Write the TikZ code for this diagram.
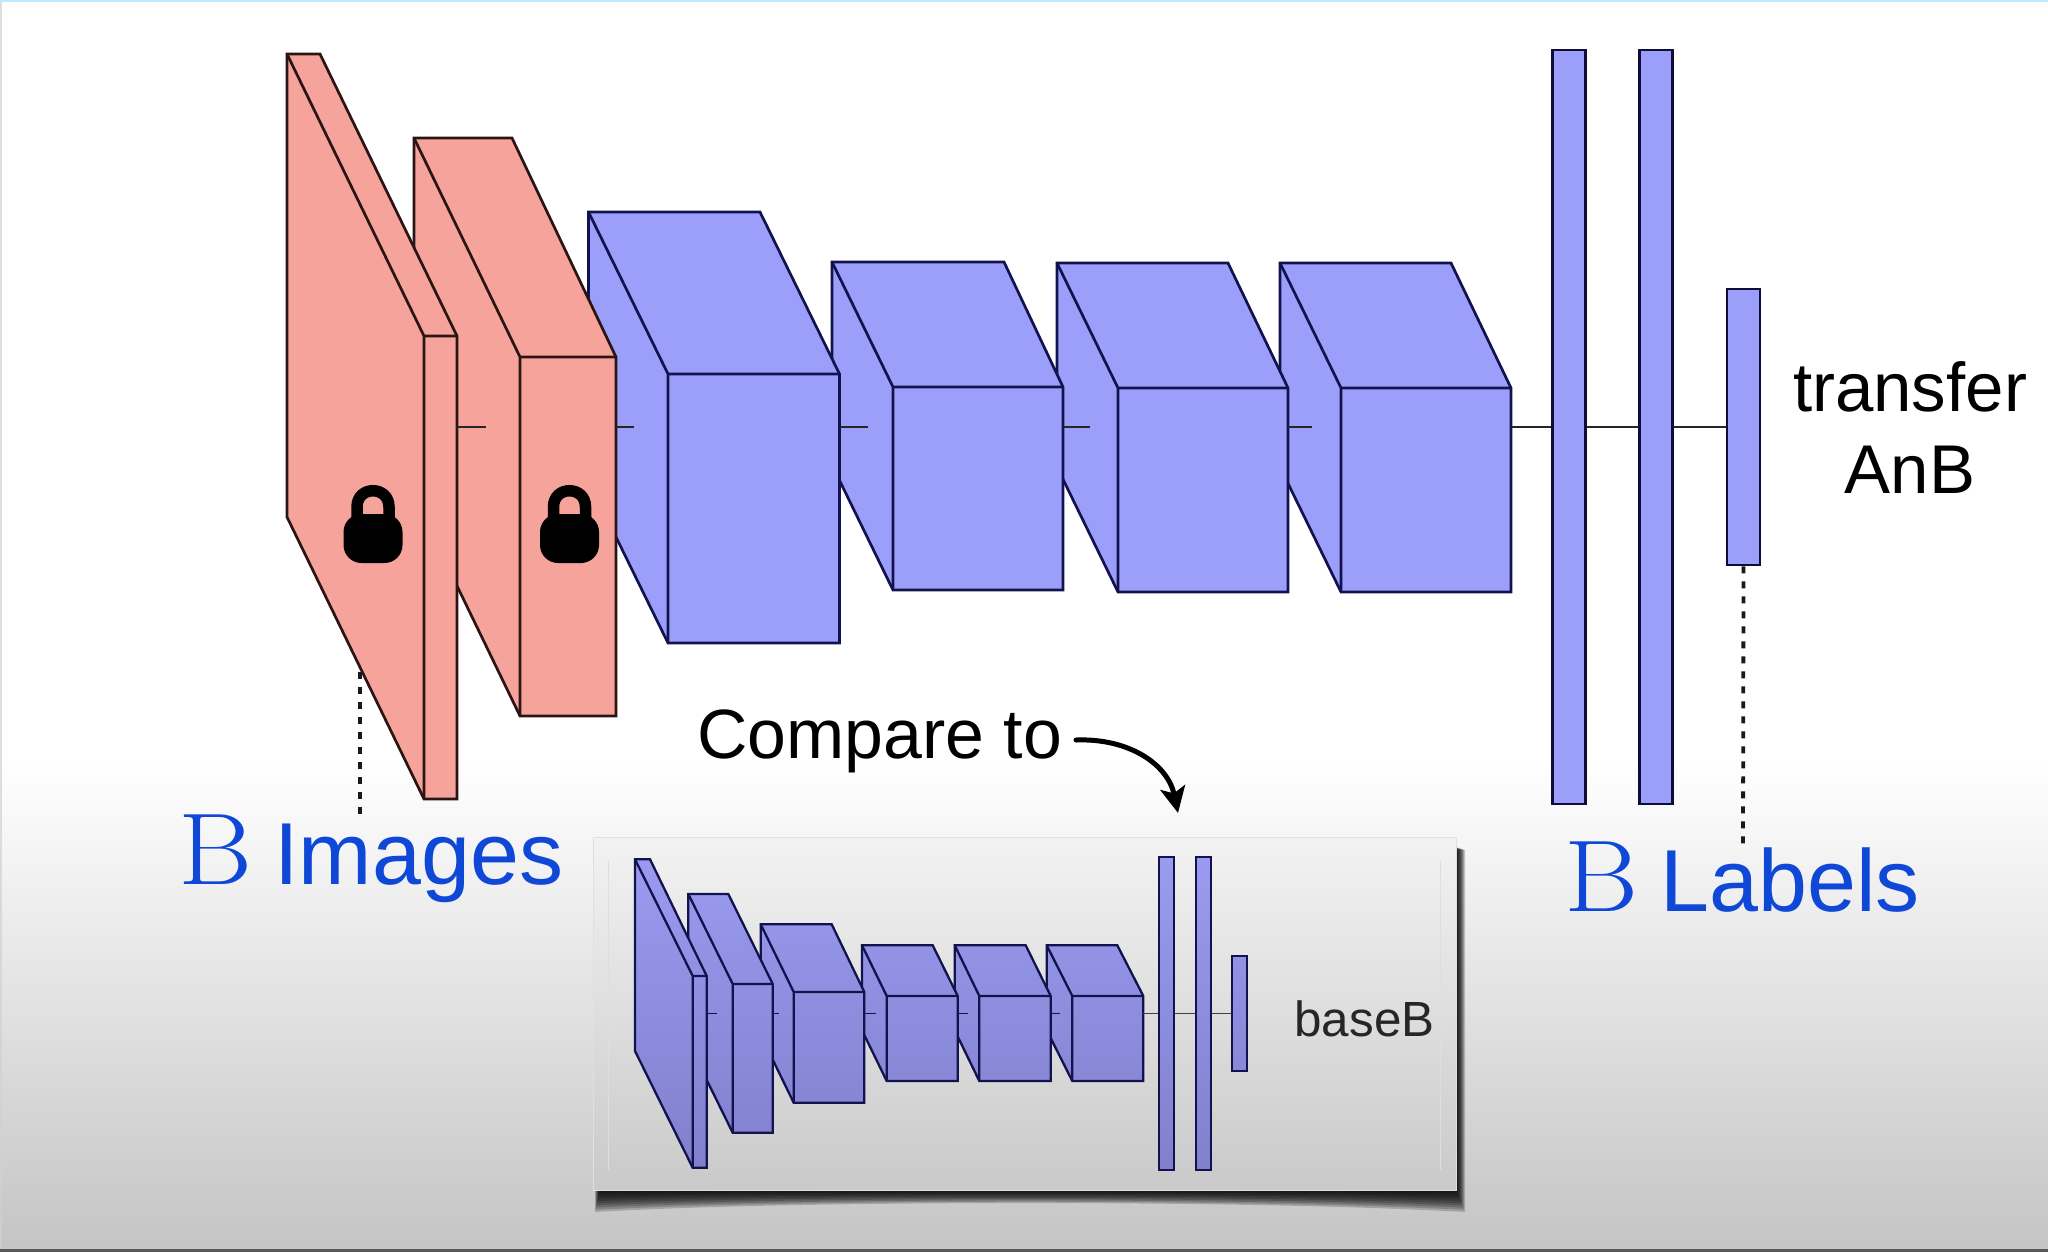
\documentclass[tikz,border=0pt]{standalone}
\usepackage{fontspec}
\usetikzlibrary{calc,arrows.meta}
\newfontfamily\helv{Liberation Sans}
\definecolor{pinkf}{HTML}{F6A39B}
\definecolor{bluef}{HTML}{9C9FFA}
\definecolor{pinke}{HTML}{2A1414}
\definecolor{bluee}{HTML}{12124E}
\definecolor{inA}{HTML}{9A9AF0}
\definecolor{inB}{HTML}{8080CC}
\definecolor{labelblue}{HTML}{0F47D6}
\newcommand{\netblock}[9]{%
  \coordinate (#1-tl) at (#3,#7);
  \coordinate (#1-tr) at (#4,#7);
  \coordinate (#1-fl) at (#5,#8);
  \coordinate (#1-fr) at (#6,#8);
  \coordinate (#1-bl) at (#5,#9);
  \coordinate (#1-br) at (#6,#9);
  \coordinate (#1-sl) at ($(#1-bl)+(#1-tl)-(#1-fl)$);
  \path[#2,blockfill] (#1-tl) -- (#1-tr) -- (#1-fr) -- (#1-br) -- (#1-bl) -- (#1-sl) -- cycle;
  \draw[#2] (#1-tl) -- (#1-fl) -- (#1-fr) (#1-fl) -- (#1-bl);
}
\tikzset{
  blockfill/.style={},
  pinkline/.style={draw=pinke,line width=1.35pt,line join=miter},
  blueline/.style={draw=bluee,line width=1.35pt,line join=miter},
  bar/.style={draw=bluee!70!black,fill=bluef,line width=1.25pt,inner sep=0pt,minimum width=16.5pt,rectangle},
  innerline/.style={draw=bluee,line width=1.15pt,line join=miter},
  ishade/.style 2 args={top color=inB!#1!inA,bottom color=inB!#2!inA},
  ibar/.style={draw=bluee,line width=1.05pt,inner sep=0pt,minimum width=7.5pt,rectangle},
  stub/.style={draw=black!85,line width=1pt},
  dotline/.style={draw=black!90,line width=1.9pt,dash pattern=on 3.5pt off 4pt},
  lbl/.style={anchor=base west,inner sep=0pt},
  bigblue/.style={lbl,text=labelblue},
  pics/padlock/.style={code={
    \draw[black,line width=5.75pt] (-16,34) -- (-16,22) .. controls (-16,0.3) and (16,0.3) .. (16,22) -- (16,34);
    \fill[black,rounded corners=9pt] (-29.5,29) rectangle (29.5,78);
  }}
}
\newcommand{\Bglyph}{\scalebox{1.11}[1]{\fontsize{51}{51}\selectfont B}}
\newcommand{\Sfont}{\helv\fontsize{44}{44}\selectfont}
\begin{document}
\begin{tikzpicture}[x=0.5pt,y=-0.5pt]
\useasboundingbox (0,0) rectangle (2048,1252);
% slide background
\fill[white] (0,0) rectangle (2048,1252);
\shade[top color=white,bottom color=black!23] (0,760) rectangle (2048,1249);
\fill[black!18,opacity=.7] (0,0) rectangle (2,1249);
\fill[cyan!25] (0,0) rectangle (2048,2);
\fill[black!65] (0,1249) rectangle (2048,1252);

% main network, drawn from back to front
\node[bar,minimum height=138pt] (bar3main) at (1743.5,427) {};
\node[bar,minimum height=377pt] (bar2main) at (1656,427) {};
\node[bar,minimum height=377pt] (bar1main) at (1569,427) {};
\tikzset{blockfill/.style={fill=bluef}}
\netblock{b6}{blueline}{1280}{1451}{1341}{1511}{263}{388}{592}
\netblock{b5}{blueline}{1057}{1228}{1118}{1288}{263}{388}{592}
\netblock{b4}{blueline}{832}{1004}{893}{1063}{262}{387}{590}
\netblock{b3}{blueline}{588.5}{760}{668}{839.5}{212}{374}{643}
\tikzset{blockfill/.style={fill=pinkf}}
\netblock{b2}{pinkline}{414}{512}{520}{616}{138}{357}{716}
\netblock{b1}{pinkline}{287}{320}{424}{457}{54}{336}{799}

\coordinate (e1) at (486,427);
\coordinate (e2) at (634,427);
\coordinate (e3) at (868,427);
\coordinate (e4) at (1090,427);
\coordinate (e5) at (1312,427);
\draw[stub] (b1-fr |- e1) -- (e1);
\draw[stub] (b2-fr |- e2) -- (e2);
\draw[stub] (b3-fr |- e3) -- (e3);
\draw[stub] (b4-fr |- e4) -- (e4);
\draw[stub] (b5-fr |- e5) -- (e5);
\draw[stub] (b6-fr |- bar1main.west) -- (bar1main.west);
\draw[stub] (bar1main.east) -- (bar2main.west);
\draw[stub] (bar2main.east) -- (bar3main.west);

\pic at (373,485) {padlock};
\pic at (569.5,485) {padlock};

% inset panel with shadow
\foreach \g in {1,...,10}{
  \fill[black,opacity=.19] (600-\g/2,1180) -- (600-\g/2,\g*2.2+1190)
     .. controls (800,\g+1190) and (1250,\g+1190) .. (1456+\g*.9,\g*2.2+1190)
     -- (1456+\g*.9,850) -- (1440,842) -- cycle;
}
\shade[top color=black!5,bottom color=black!21,draw=black!12,line width=.5pt] (593,837) rectangle (1456,1190);
\draw[black!13,line width=.4pt] (608,860) -- (608,1170);
\draw[black!13,line width=.4pt] (1440,860) -- (1440,1170);

\node[ibar,ishade={31}{68},minimum height=57.35pt] (ibar3) at (1239.8,1013.35) {};
\node[ibar,ishade={0}{100},minimum height=156.65pt] (ibar2) at (1203.2,1013.35) {};
\node[ibar,ishade={0}{100},minimum height=156.65pt] (ibar1) at (1166.8,1013.35) {};
\tikzset{blockfill/.style={ishade={27}{71}}}
\netblock{if}{innerline}{1046.7}{1117.3}{1072.3}{1143.3}{945.3}{996}{1081}
\netblock{ie}{innerline}{954.7}{1025.7}{979.3}{1050.7}{945.3}{996}{1081}
\netblock{id}{innerline}{862}{932.7}{886.7}{957.7}{945.3}{996}{1081}
\tikzset{blockfill/.style={ishade={21}{78}}}
\netblock{ic}{innerline}{760.7}{831.7}{793.7}{864.3}{924.3}{992}{1102.7}
\tikzset{blockfill/.style={ishade={11}{88}}}
\netblock{ib}{innerline}{688.3}{728.3}{732.7}{772.7}{894}{984}{1132.7}
\tikzset{blockfill/.style={ishade={0}{100}}}
\netblock{ia}{innerline}{635}{650}{692.7}{706.7}{859.3}{976}{1167.7}

\coordinate (ie1) at (717.3,1013.35);
\coordinate (ie2) at (779,1013.35);
\coordinate (ie3) at (875.7,1013.35);
\coordinate (ie4) at (968.3,1013.35);
\coordinate (ie5) at (1060,1013.35);
\draw[draw=bluee,line width=.85pt] (ia-fr |- ie1) -- (ie1);
\draw[draw=bluee,line width=.85pt] (ib-fr |- ie2) -- (ie2);
\draw[draw=bluee,line width=.85pt] (ic-fr |- ie3) -- (ie3);
\draw[draw=bluee,line width=.85pt] (id-fr |- ie4) -- (ie4);
\draw[draw=bluee,line width=.85pt] (ie-fr |- ie5) -- (ie5);
\draw[draw=black!75,line width=.85pt] (if-fr |- ibar1.west) -- (ibar1.west);
\draw[draw=black!75,line width=.85pt] (ibar1.east) -- (ibar2.west);
\draw[draw=black!75,line width=.85pt] (ibar2.east) -- (ibar3.west);

% dotted leaders
\coordinate (imgtop) at (360,672);
\coordinate (imgend) at (360,818);
\coordinate (labend) at (1743,846);
\draw[dotline] (imgtop) -- (imgend);
\draw[dotline] (bar3main.south) -- (labend);

% compare arrow
\coordinate (arrstart) at (1076,740);
\coordinate (arrend) at (1178,813);
\draw[line width=2.5pt,line cap=round,-{Stealth[length=13pt,width=12.5pt,inset=3pt]}] (arrstart) .. controls (1130,738) and (1168,765) .. (arrend);

% labels
\node[bigblue] (imglabel) at (178,884) {\Bglyph\kern11pt{\Sfont Images}};
\node[bigblue] (lablabel) at (1564,911) {\Bglyph\kern11pt{\Sfont Labels}};
\node[lbl,font=\helv\fontsize{34.9}{34.9}\selectfont] (cmp) at (697,758) {Compare to};
\node[lbl,font=\helv\fontsize{24.7}{24.7}\selectfont,text=black!85] (baseb) at (1294,1036) {baseB};
\node[inner sep=0pt,align=center,anchor=center,font=\helv\fontsize{34.5}{41}\selectfont] (transfer) at (1910,428) {transfer\\AnB};
\end{tikzpicture}
\end{document}
